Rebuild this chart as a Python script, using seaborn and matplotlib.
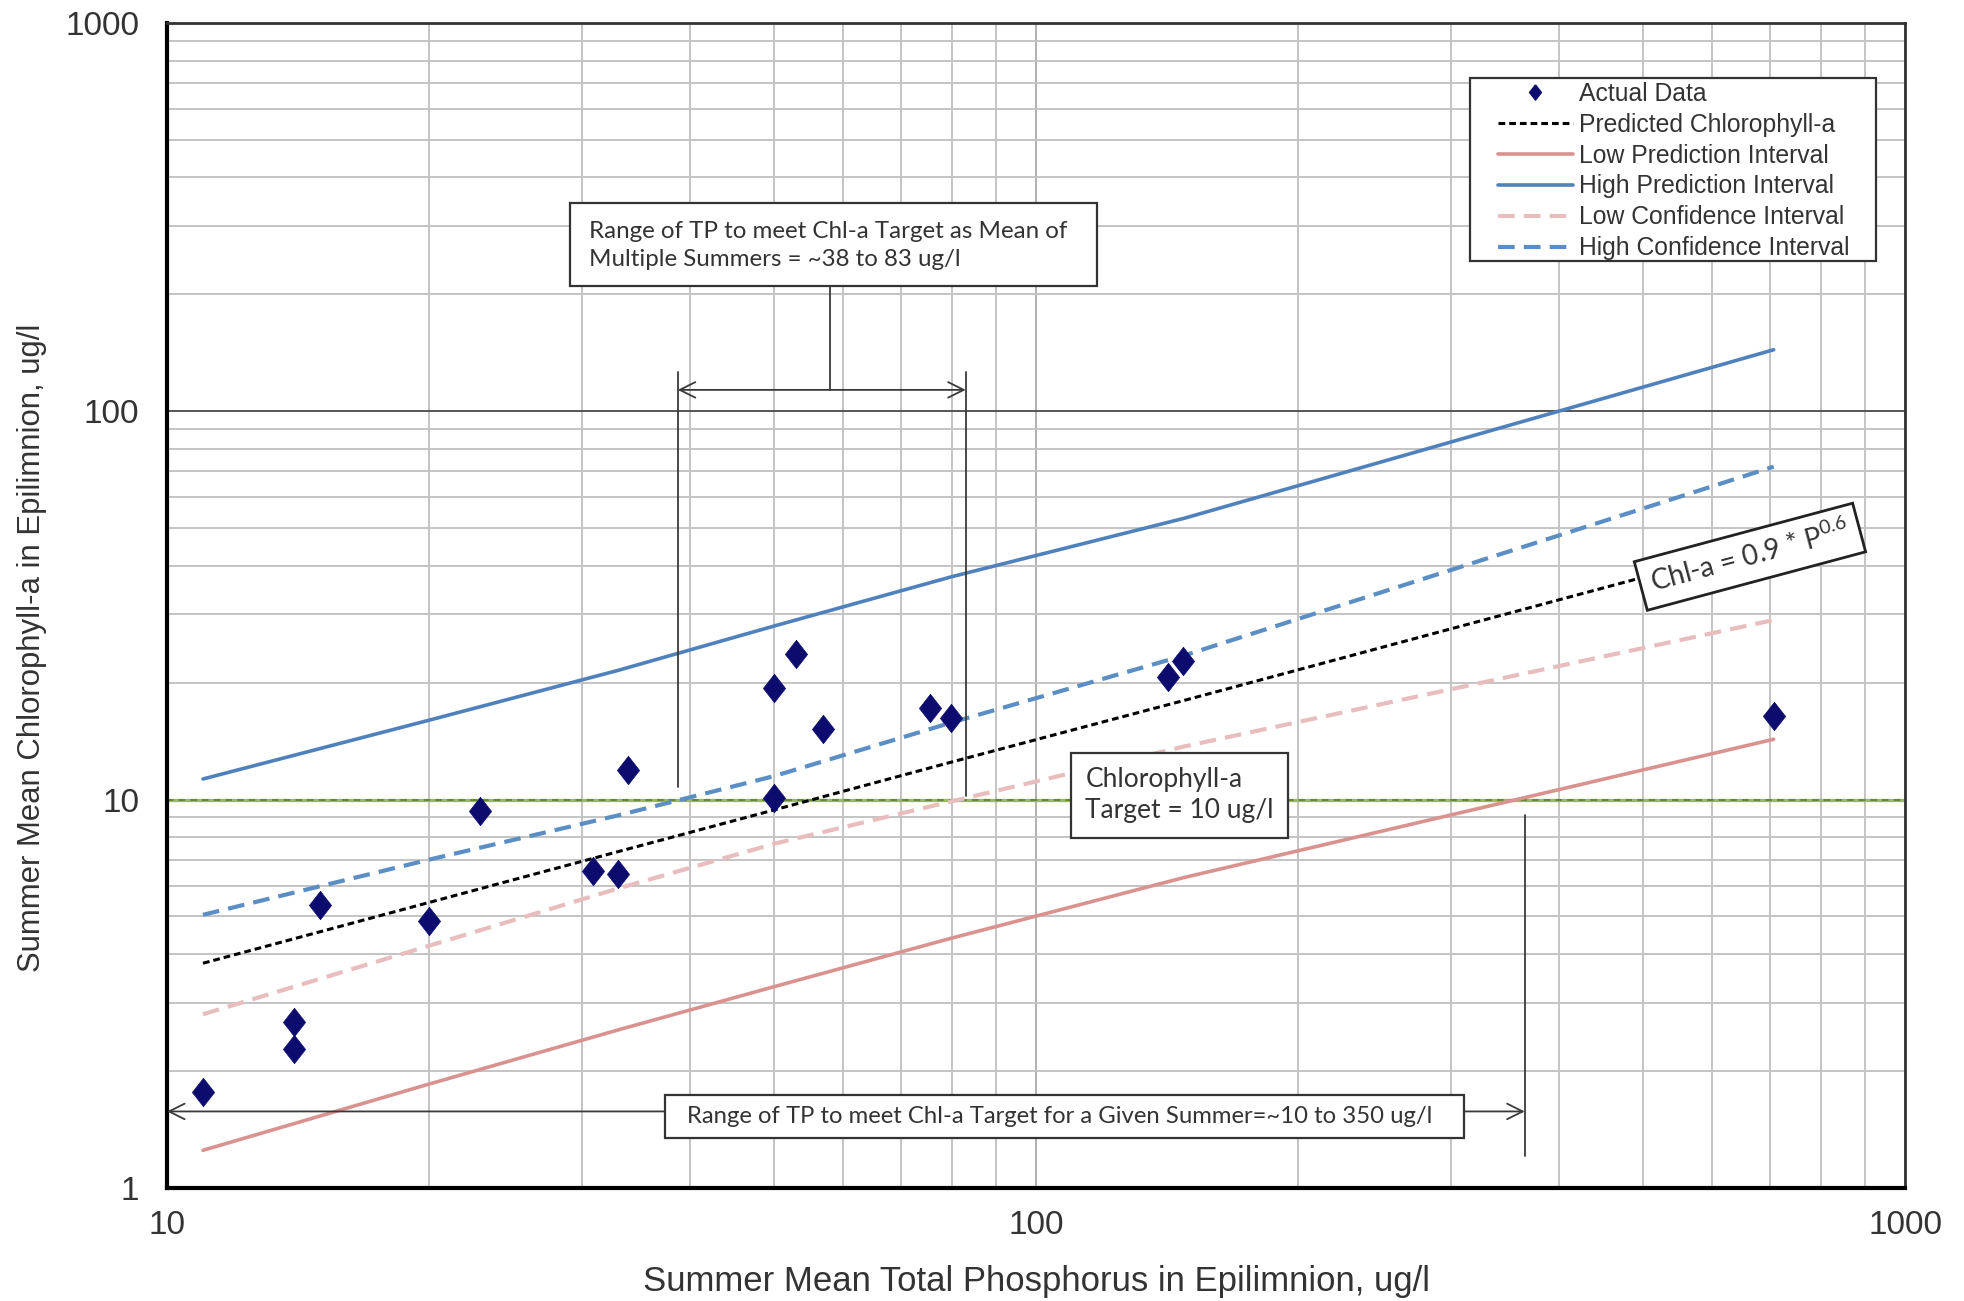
import numpy as np
import pandas as pd
import matplotlib
matplotlib.use("Agg")
import matplotlib.pyplot as plt
import seaborn as sns
from matplotlib.lines import Line2D
from matplotlib.patches import Rectangle
from matplotlib.ticker import FixedLocator, FixedFormatter, NullFormatter, LogLocator

# ---------------- data ----------------
tp = [11, 14, 14, 15, 20, 22.9, 30.9, 33, 33.9, 49.9, 49.9, 52.9, 56.8, 75.5, 79.9, 142, 147.6, 706]
chl = [1.77, 2.67, 2.28, 5.36, 4.86, 9.35, 6.55, 6.45, 11.95, 19.4, 10.07, 23.7, 15.2, 17.2, 16.2, 20.7, 22.8, 16.4]

line_x = [11, 20, 33, 50, 80, 148, 706]
pred = [3.79, 5.43, 7.34, 9.41, 12.5, 18.0, 46.0]
low_pi = [1.25, 1.85, 2.55, 3.3, 4.4, 6.3, 14.3]
high_pi = [11.3, 16.0, 21.5, 28.0, 37.5, 53.0, 144]
low_ci = [2.8, 4.2, 5.9, 7.7, 9.9, 13.7, 29.0]
high_ci = [5.05, 7.0, 9.1, 11.5, 15.8, 23.5, 72.0]

target_chl = 10
range_mean = [38.7, 83]
range_single = [10, 365]

x_ticks = [10, 100, 1000]
x_ticklabels = ["10", "100", "1000"]
y_ticks = [1, 10, 100, 1000]
y_ticklabels = ["1", "10", "100", "1000"]

legend_labels = ["Actual Data", "Predicted Chlorophyll-a", "Low Prediction Interval",
                 "High Prediction Interval", "Low Confidence Interval", "High Confidence Interval"]

# ---------------- style ----------------
sns.set_style("white")
plt.rcParams["font.family"] = ["Liberation Sans", "DejaVu Sans"]
plt.rcParams["mathtext.default"] = "regular"

fig = plt.figure(figsize=(19.65, 13.01), dpi=100)
ax = fig.add_axes([0.0850, 0.0869, 0.8845, 0.8955])
ax.set_xscale("log")
ax.set_yscale("log")
ax.set_xlim(10, 1000)
ax.set_ylim(1, 1000)

# grid
ax.xaxis.set_minor_locator(LogLocator(base=10, subs=np.arange(2, 10)))
ax.yaxis.set_minor_locator(LogLocator(base=10, subs=np.arange(2, 10)))
ax.grid(which="minor", axis="both", color="#c4c4c4", lw=1.4)
ax.grid(which="major", axis="x", color="#b0b0b0", lw=1.4)
ax.grid(which="major", axis="y", color="#555555", lw=1.4)
ax.set_axisbelow(True)

diamond = [(0, 1), (0.78, 0), (0, -1), (-0.78, 0), (0, 1)]

c_navy = "#0c0c6e"
c_hpi = "#4F81BD"
c_lpi = "#D9928F"
c_lci = "#E8BDBE"
c_hci = "#5A8EC4"

# target line
ax.axhline(target_chl, color="#9BBB59", lw=2.4, zorder=2)
ax.axhline(target_chl, color="#5f7f2a", lw=1.2, ls=(0, (4, 3)), zorder=2)

sns.lineplot(x=line_x, y=high_pi, ax=ax, color=c_hpi, lw=2.6, zorder=3)
sns.lineplot(x=line_x, y=low_pi, ax=ax, color=c_lpi, lw=2.6, zorder=3)
sns.lineplot(x=line_x, y=high_ci, ax=ax, color=c_hci, lw=3.0, linestyle=(0, (4, 2.2)), zorder=3)
sns.lineplot(x=line_x, y=low_ci, ax=ax, color=c_lci, lw=3.0, linestyle=(0, (4, 2.2)), zorder=3)
sns.lineplot(x=line_x, y=pred, ax=ax, color="black", lw=2.2, linestyle=(0, (2.2, 1.3)), zorder=3)

sns.scatterplot(x=tp, y=chl, ax=ax, marker=diamond, s=420, color=c_navy,
                edgecolor=c_navy, linewidth=0.5, zorder=5)

# ---------------- annotations ----------------
ann_color = "#3a3a3a"
box_edge = "#333333"
calibri_like = ["Lato", "DejaVu Sans"]
# multi-summer range
ax.plot([range_mean[0], range_mean[0]], [10.8, 126], color=ann_color, lw=1.3, zorder=4)
ax.plot([range_mean[1], range_mean[1]], [10.2, 126], color=ann_color, lw=1.3, zorder=4)
ax.annotate("", xy=(range_mean[0], 113.5), xytext=(range_mean[1], 113.5),
            arrowprops=dict(arrowstyle="<->", color=ann_color, lw=1.3,
                            mutation_scale=28, shrinkA=0, shrinkB=0), zorder=4)
ax.plot([57.9, 57.9], [113.5, 215], color=ann_color, lw=1.3, zorder=4)
ax.add_patch(Rectangle((0.2320, 0.7745), 0.3029, 0.0710, transform=ax.transAxes,
                       facecolor="white", edgecolor=box_edge, lw=1.6, zorder=6))
ax.text(0.2428, 0.8089, "Range of TP to meet Chl-a Target as Mean of\nMultiple Summers = ~38 to 83 ug/l",
        transform=ax.transAxes, ha="left", va="center", fontsize=17.4, family=calibri_like,
        color="#333333", linespacing=1.4, zorder=7)

# single summer range
ax.annotate("", xy=(range_single[0], 1.574), xytext=(range_single[1], 1.574),
            arrowprops=dict(arrowstyle="<->", color=ann_color, lw=1.3,
                            mutation_scale=28, shrinkA=0, shrinkB=0), zorder=4)
ax.plot([range_single[1], range_single[1]], [1.21, 9.14], color=ann_color, lw=1.3, zorder=4)
ax.add_patch(Rectangle((0.2868, 0.0430), 0.4593, 0.0366, transform=ax.transAxes,
                       facecolor="white", edgecolor=box_edge, lw=1.6, zorder=6))
ax.text(0.5136, 0.0613, "Range of TP to meet Chl-a Target for a Given Summer=~10 to 350 ug/l",
        transform=ax.transAxes, ha="center", va="center", fontsize=17.2, family=calibri_like,
        color="#333333", zorder=7)

# target box
ax.text(146.3, 10.25, "Chlorophyll-a\nTarget = 10 ug/l", ha="center", va="center", ma="left",
        fontsize=19, family=calibri_like, color="#333333", linespacing=1.3,
        bbox=dict(boxstyle="square,pad=0.55", facecolor="white", edgecolor=box_edge, lw=1.6),
        zorder=6)

# equation box
ax.text(663, 42.2, r"Chl-a = 0.9 * P$^{0.6}$", ha="center", va="center", rotation=15,
        rotation_mode="anchor", fontsize=20, family=calibri_like, color="#333333",
        bbox=dict(boxstyle="square,pad=0.38", facecolor="white", edgecolor="#222222", lw=2.0),
        zorder=6)

# ---------------- axes ----------------
ax.xaxis.set_major_locator(FixedLocator(x_ticks))
ax.xaxis.set_major_formatter(FixedFormatter(x_ticklabels))
ax.xaxis.set_minor_formatter(NullFormatter())
ax.yaxis.set_major_locator(FixedLocator(y_ticks))
ax.yaxis.set_major_formatter(FixedFormatter(y_ticklabels))
ax.yaxis.set_minor_formatter(NullFormatter())
ax.tick_params(axis="both", which="major", labelsize=24, length=8, width=1.2,
               color="#555555", labelcolor="#333333", direction="out")
ax.tick_params(axis="y", which="major", pad=12)
ax.tick_params(axis="x", which="major", pad=8)
ax.tick_params(axis="both", which="minor", length=0)

for side in ["left", "bottom"]:
    ax.spines[side].set_color("black")
    ax.spines[side].set_linewidth(3.0)
for side in ["top", "right"]:
    ax.spines[side].set_color("#333333")
    ax.spines[side].set_linewidth(2.0)

ax.set_xlabel("Summer Mean Total Phosphorus in Epilimnion, ug/l", fontsize=25, color="#333333")
ax.xaxis.set_label_coords(0.5, -0.066)
ax.set_ylabel("Summer Mean Chlorophyll-a in Epilimnion, ug/l", fontsize=22.4, color="#333333")
ax.yaxis.set_label_coords(-0.0688, 0.4635)

# ---------------- legend ----------------
ax.add_patch(Rectangle((0.7497, 0.7957), 0.2336, 0.1571, transform=ax.transAxes,
                       facecolor="white", edgecolor=box_edge, lw=1.6, zorder=9))
handles = [
    Line2D([], [], ls="none", marker=diamond, ms=11, color=c_navy),
    Line2D([], [], color="black", lw=2.2, ls=(0, (2.2, 1.3))),
    Line2D([], [], color=c_lpi, lw=2.6),
    Line2D([], [], color=c_hpi, lw=2.6),
    Line2D([], [], color=c_lci, lw=3.0, ls=(0, (4, 2.2))),
    Line2D([], [], color=c_hci, lw=3.0, ls=(0, (4, 2.2))),
]
leg = ax.legend(handles, legend_labels, loc="upper left", bbox_to_anchor=(0.7656, 0.9495),
                fontsize=17.8, frameon=False, handlelength=3.03, handletextpad=0.26,
                labelspacing=0.28, borderpad=0, borderaxespad=0)
for t in leg.get_texts():
    t.set_color("#333333")
leg.set_zorder(10)

fig.savefig("out.png", dpi=100)
